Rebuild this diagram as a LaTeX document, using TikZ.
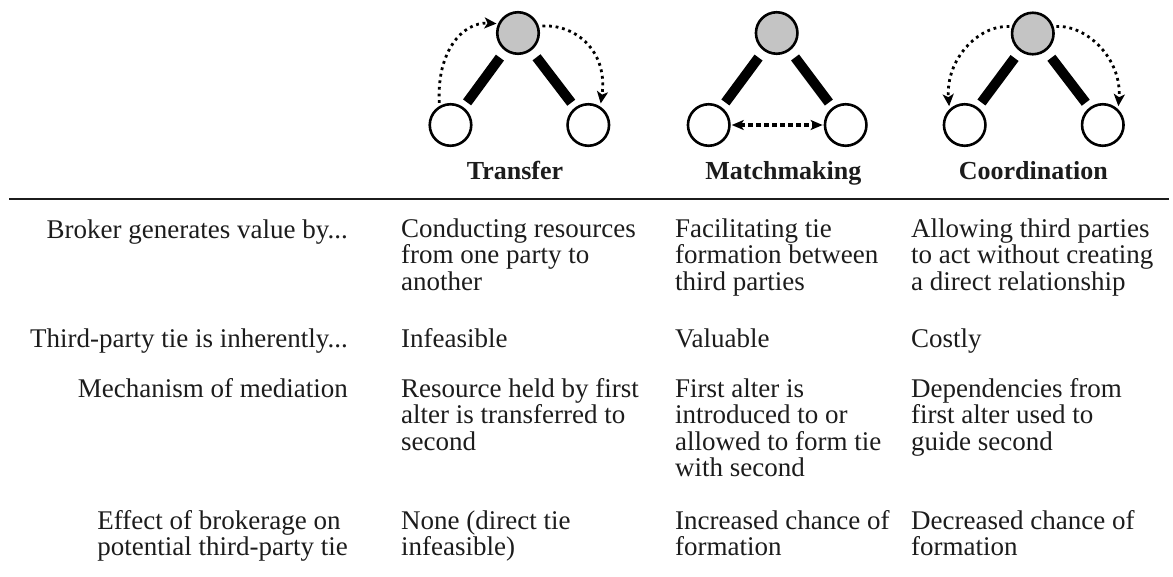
\documentclass[tikz,border=0pt]{standalone}
\usepackage{fontspec}
\setmainfont{Liberation Serif}
\usetikzlibrary{arrows.meta}
\definecolor{brokerfill}{RGB}{196,196,196}
\definecolor{ink}{RGB}{28,28,28}
% strut that fixes the height of the first line of every table cell
\newcommand{\firstline}{\rule{0pt}{21pt}}
\begin{document}
\begin{tikzpicture}[x=1pt,y=-1pt,
  actor/.style={circle,draw=black,line width=2.6pt,minimum size=41.5pt,inner sep=0pt},
  broker/.style={actor,fill=brokerfill},
  alter/.style={actor,fill=white},
  tie/.style={line width=10pt,shorten <=8.5pt,shorten >=6pt},
  flow/.style={line width=2.8pt,dash pattern=on 2.8pt off 3.8pt,-{Stealth[length=12pt,width=11pt,inset=3pt]}},
  match/.style={line width=3.2pt,dash pattern=on 5pt off 3pt,
    {Stealth[length=12pt,width=10pt,inset=3pt]}-{Stealth[length=12pt,width=10pt,inset=3pt]},
    shorten <=1pt,shorten >=1pt},
  cell/.style={font=\fontsize{27}{26.5}\selectfont,text=ink,inner sep=0pt,align=left,anchor=north west},
  rowlabel/.style={cell,align=right,anchor=north east},
  head/.style={font=\fontsize{26}{28}\selectfont\bfseries,text=ink,inner sep=0pt,anchor=base},
]
\useasboundingbox (0,0) rectangle (1173,576);

% ---- Transfer ----
\node[broker] (T1) at (518,33) {};
\node[alter]  (L1) at (450.5,125) {};
\node[alter]  (R1) at (588.3,125) {};
\draw[tie] (T1) -- (L1);
\draw[tie] (T1) -- (R1);
\draw[flow,shorten <=3pt,shorten >=1.5pt] (L1.120) .. controls +(-3,-55) and +(-35,-2) .. (T1.155);
\draw[flow,shorten <=3.5pt,shorten >=3pt] (T1.18) .. controls +(37,-2) and +(8,-55) .. (R1.57);
\node[head] (h1) at (515,179) {Transfer};

% ---- Matchmaking ----
\node[broker] (T2) at (776.7,33) {};
\node[alter]  (L2) at (708.7,125) {};
\node[alter]  (R2) at (845.7,125) {};
\draw[tie] (T2) -- (L2);
\draw[tie] (T2) -- (R2);
\draw[match] (L2) -- (R2);
\node[head] (h2) at (783.3,179) {Matchmaking};

% ---- Coordination ----
\node[broker] (T3) at (1032.8,33.5) {};
\node[alter]  (L3) at (964.7,125) {};
\node[alter]  (R3) at (1102.8,125) {};
\draw[tie] (T3) -- (L3);
\draw[tie] (T3) -- (R3);
\draw[flow,shorten <=2.5pt,shorten >=3pt] (T3.162) .. controls +(-33,-2) and +(-4,-50) .. (L3.134);
\draw[flow,shorten <=2.5pt,shorten >=3pt] (T3.18) .. controls +(33,-2) and +(4,-50) .. (R3.46);
\node[head] (h3) at (1033.3,179) {Coordination};

% ---- rule under the headings ----
\coordinate (ruleL) at (9,199);
\coordinate (ruleR) at (1169,199);
\draw[line width=1.8pt,draw=ink] (ruleL) -- (ruleR);

% ---- row labels ----
\node[rowlabel] (lab1) at (348,217) {\firstline Broker generates value by...};
\node[rowlabel] (lab2) at (348,326) {\firstline Third-party tie is inherently...};
\node[rowlabel] (lab3) at (348,376) {\firstline Mechanism of mediation};
\node[cell,anchor=north east] (lab4) at (348,508) {\firstline Effect of brokerage on\\potential third-party tie};

% ---- table cells ----
\node[cell] (tr1) at (401,216) {\firstline Conducting resources\\from one party to\\another};
\node[cell] (mm1) at (675,216) {\firstline Facilitating tie\\formation between\\third parties};
\node[cell] (co1) at (911,216) {\firstline Allowing third parties\\to act without creating\\a direct relationship};

\node[cell] (tr2) at (401,326) {\firstline Infeasible};
\node[cell] (mm2) at (675,326) {\firstline Valuable};
\node[cell] (co2) at (911,326) {\firstline Costly};

\node[cell] (tr3) at (401,376) {\firstline Resource held by first\\alter is transferred to\\second};
\node[cell] (mm3) at (675,376) {\firstline First alter is\\introduced to or\\allowed to form tie\\with second};
\node[cell] (co3) at (911,376) {\firstline Dependencies from\\first alter used to\\guide second};

\node[cell] (tr4) at (401,508) {\firstline None (direct tie\\infeasible)};
\node[cell] (mm4) at (675,508) {\firstline Increased chance of\\formation};
\node[cell] (co4) at (911,508) {\firstline Decreased chance of\\formation};
\end{tikzpicture}
\end{document}
